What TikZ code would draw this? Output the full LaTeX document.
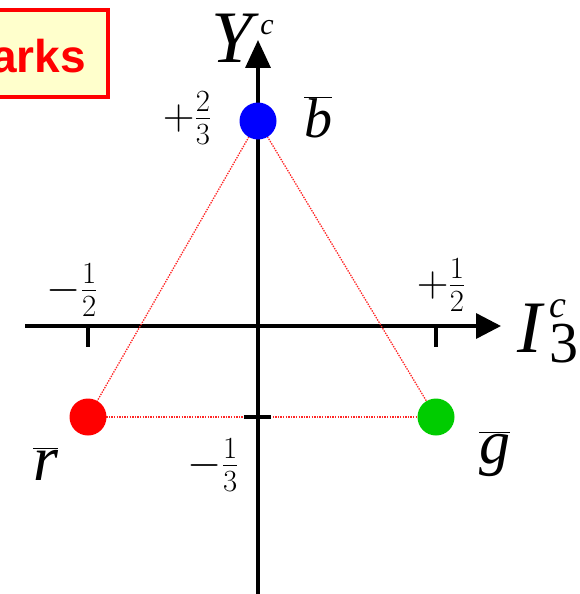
\RequirePackage{fix-cm}
\documentclass[tikz,border=0pt]{standalone}
\usepackage{fontspec}
\setmainfont{Liberation Serif}
\newfontfamily\boxfont{Liberation Sans}
\usetikzlibrary{arrows.meta}
\newcommand\fsz[1]{\fontsize{#1}{#1}\selectfont}
\newcommand\ovl[2]{$\overline{\hbox{\fsz{#1}\itshape #2}}$}
\tikzset{
  axis/.style={line width=3.5pt},
  tick/.style={line width=3.5pt},
  edge/.style={red!85,line width=1.3pt,dash pattern=on 1.4pt off 1.2pt},
  quark/.style={circle,inner sep=0pt,minimum size=37pt},
  biglbl/.style={inner sep=0pt,anchor=base west},
  frac/.style={inner sep=0pt,font=\fsz{44}}
}
\begin{document}
\begin{tikzpicture}[x=1pt,y=-1pt]
\useasboundingbox (0,0) rectangle (579,594);
% title box
\draw[red,line width=4pt,fill={rgb,255:red,255;green,255;blue,204}] (-20,10) rectangle (108,97);
\node[anchor=base east,text=red,inner sep=0pt,font=\boxfont\bfseries\fsz{46}] (title) at (86,72) {arks};
% axes
\coordinate (ybot) at (258,594);
\coordinate (ytop) at (258,40);
\coordinate (xl) at (25,326);
\coordinate (xr) at (501,326);
\draw[axis,-{Triangle[length=28pt,width=25pt]}] (ybot) -- (ytop);
\draw[axis,-{Triangle[length=25pt,width=25pt]}] (xl) -- (xr);
% quark positions and edges
\coordinate (bc) at (258,121);
\coordinate (rc) at (88,417);
\coordinate (gc) at (436,417);
\draw[edge] (bc) -- (rc);
\draw[edge] (bc) -- (gc);
\draw[edge] (rc) -- (gc);
% ticks
\coordinate (t1a) at (88,326); \coordinate (t1b) at (88,347);
\coordinate (t2a) at (436,326); \coordinate (t2b) at (436,347);
\coordinate (t3a) at (244,417); \coordinate (t3b) at (271,417);
\draw[tick] (t1a) -- (t1b);
\draw[tick] (t2a) -- (t2b);
\draw[tick] (t3a) -- (t3b);
% quarks
\node[quark,fill=blue] (b) at (bc) {};
\node[quark,fill=red] (r) at (rc) {};
\node[quark,fill={rgb,255:red,0;green,204;blue,0}] (g) at (gc) {};
% axis labels
\node[biglbl] (ylab) at (211,63) {\fsz{74}\itshape Y\hspace{8pt}\raisebox{28pt}{\fsz{30}c}};
\node[biglbl] (xlab) at (517,352) {\fsz{74}\itshape I\hspace{8pt}\rlap{\raisebox{35pt}{\fsz{38}c}}\raisebox{-10pt}{\upshape\fsz{58}3}};
% quark labels
\node[biglbl] (blab) at (304,137) {\ovl{56}{b}};
\node[biglbl] (rlab) at (33,480) {\ovl{64}{r}};
\node[biglbl] (glab) at (479,463) {\ovl{62}{g}};
% fractions
\node[frac] (f23) at (187,118) {$+\frac{2}{3}$};
\node[frac] (fm12) at (72,290) {$-\frac{1}{2}$};
\node[frac] (fp12) at (441,285) {$+\frac{1}{2}$};
\node[frac] (fm13) at (213,465) {$-\frac{1}{3}$};
\end{tikzpicture}
\end{document}
